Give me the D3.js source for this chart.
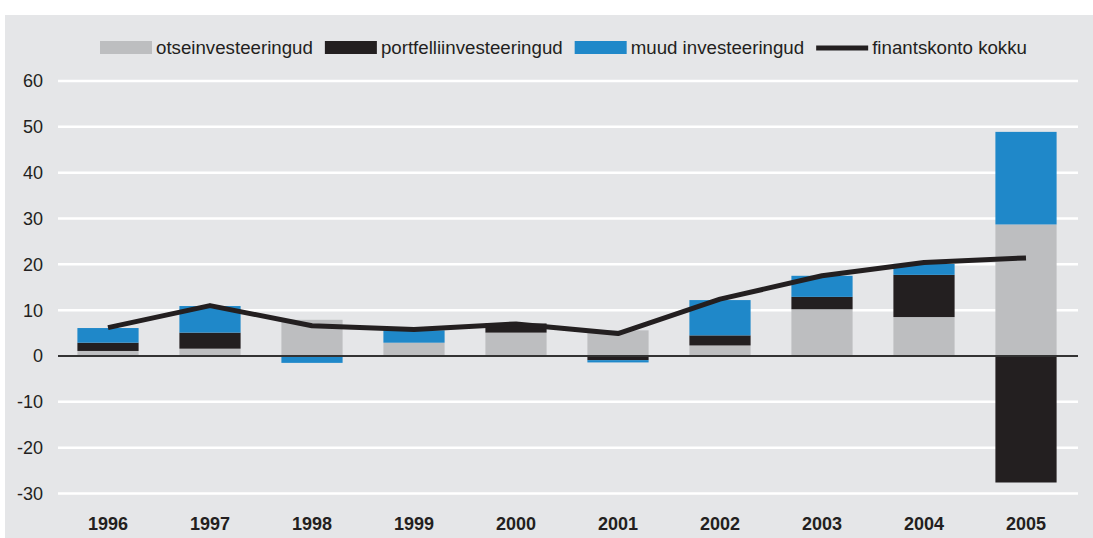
<!DOCTYPE html>
<html>
<head>
<meta charset="utf-8">
<script src="https://cdn.jsdelivr.net/npm/d3@7.9.0/dist/d3.min.js"></script>
<style>
  html, body { margin: 0; padding: 0; background: #fff; }
  svg { display: block; font-family: "Liberation Sans", Arial, sans-serif; }
</style>
</head>
<body>
<svg width="1093" height="538"></svg>
<script>
// data (mld kr)
const years = ['1996', '1997', '1998', '1999', '2000', '2001', '2002', '2003', '2004', '2005'];
const otse = [1.1, 1.6, 7.9, 2.9, 5.1, 5.6, 2.3, 10.2, 8.5, 28.7];
const portfell = [1.8, 3.5, 0, 0, 2.0, -0.9, 2.2, 2.7, 9.2, -27.6];
const muud = [3.2, 5.8, -1.5, 2.7, 0, -0.5, 7.7, 4.6, 2.4, 20.2];
const finants = [6.2, 11.0, 6.6, 5.8, 7.0, 4.9, 12.4, 17.5, 20.4, 21.4];
const yTicks = [60, 50, 40, 30, 20, 10, 0, -10, -20, -30];

const seriesKeys = ['otse', 'portfell', 'muud'];
const seriesNames = ['otseinvesteeringud', 'portfelliinvesteeringud', 'muud investeeringud'];
const colors = { otse: '#bdbec0', portfell: '#231f20', muud: '#1f88c9' };
const lineColor = '#231f20';

const svg = d3.select('svg');

// background panel
svg.append('rect')
  .attr('x', 5).attr('y', 15)
  .attr('width', 1088).attr('height', 523)
  .attr('fill', '#e5e6e8');

const x = d3.scaleBand().domain(years).range([57, 1077]).paddingInner(0.4).paddingOuter(0.2);
const y = d3.scaleLinear().domain([-30, 60]).range([493.5, 81]);

// grid
svg.append('g').selectAll('line')
  .data(yTicks.filter(d => d !== 0))
  .join('line')
  .attr('x1', 58).attr('x2', 1078)
  .attr('y1', d => y(d)).attr('y2', d => y(d))
  .attr('stroke', '#fff').attr('stroke-width', 2.5);

// y labels
svg.append('g').selectAll('text')
  .data(yTicks)
  .join('text')
  .attr('x', 43).attr('y', d => y(d))
  .attr('dy', '0.36em')
  .attr('text-anchor', 'end')
  .attr('font-size', 18)
  .attr('fill', '#231f20')
  .text(d => d);

// stacked bars
const rows = years.map((yr, i) => ({ year: yr, otse: otse[i], portfell: portfell[i], muud: muud[i] }));
const stacked = d3.stack().keys(seriesKeys).offset(d3.stackOffsetDiverging)(rows);

svg.append('g').selectAll('g')
  .data(stacked)
  .join('g')
  .attr('fill', d => colors[d.key])
  .selectAll('rect')
  .data(d => d)
  .join('rect')
  .attr('x', d => x(d.data.year))
  .attr('width', x.bandwidth())
  .attr('y', d => y(Math.max(d[0], d[1])))
  .attr('height', d => Math.abs(y(d[0]) - y(d[1])));

// zero line
svg.append('line')
  .attr('x1', 58).attr('x2', 1078)
  .attr('y1', y(0)).attr('y2', y(0))
  .attr('stroke', '#333').attr('stroke-width', 2);

// total line
const line = d3.line()
  .x((d, i) => x(years[i]) + x.bandwidth() / 2)
  .y(d => y(d));

svg.append('path')
  .datum(finants)
  .attr('d', line)
  .attr('fill', 'none')
  .attr('stroke', lineColor)
  .attr('stroke-width', 5)
  .attr('stroke-linejoin', 'round');

// x labels
svg.append('g').selectAll('text')
  .data(years)
  .join('text')
  .attr('x', d => x(d) + x.bandwidth() / 2)
  .attr('y', 530)
  .attr('text-anchor', 'middle')
  .attr('font-size', 18)
  .attr('font-weight', 'bold')
  .attr('fill', '#231f20')
  .text(d => d);

// legend
const legendItems = seriesKeys.map((k, i) => ({ name: seriesNames[i], color: colors[k], type: 'rect' }))
  .concat([{ name: 'finantskonto kokku', color: lineColor, type: 'line' }]);

const legend = svg.append('g');
let lx = 100;
legendItems.forEach(item => {
  if (item.type === 'rect') {
    legend.append('rect')
      .attr('x', lx).attr('y', 41)
      .attr('width', 52).attr('height', 13)
      .attr('fill', item.color);
  } else {
    legend.append('line')
      .attr('x1', lx).attr('x2', lx + 52)
      .attr('y1', 48).attr('y2', 48)
      .attr('stroke', item.color).attr('stroke-width', 5);
  }
  const t = legend.append('text')
    .attr('x', lx + 56).attr('y', 54)
    .attr('font-size', 18.7)
    .attr('fill', '#231f20')
    .text(item.name);
  lx += 56 + t.node().getComputedTextLength() + 12;
});
</script>
</body>
</html>
